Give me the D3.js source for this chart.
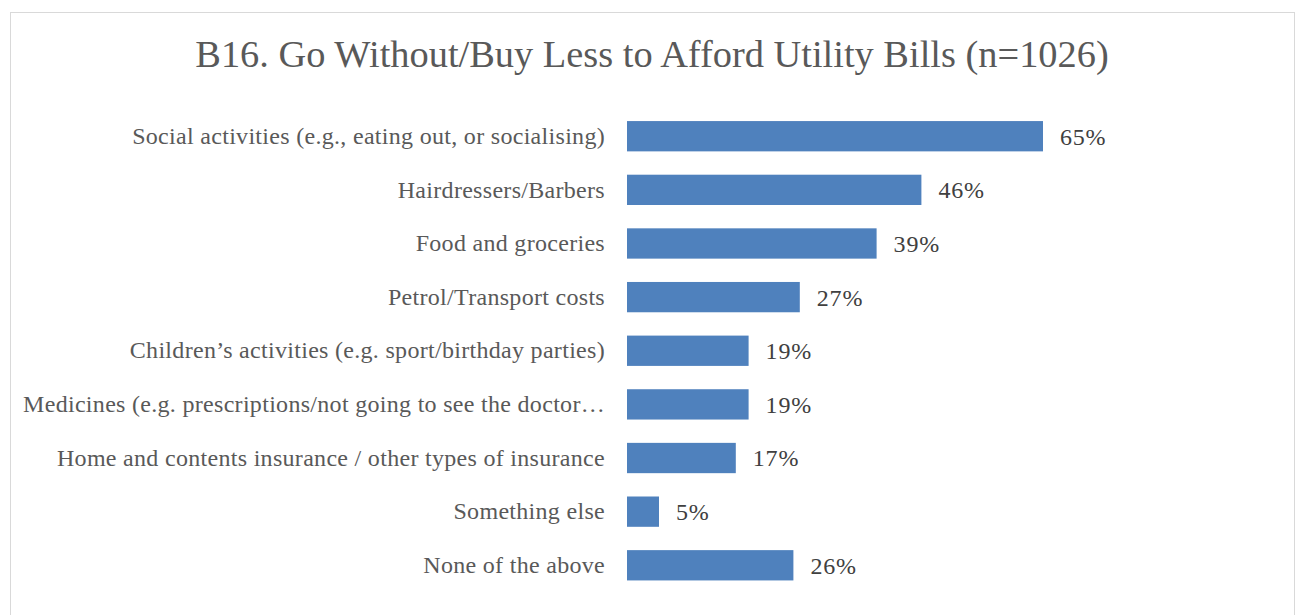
<!DOCTYPE html>
<html>
<head>
<meta charset="utf-8">
<script src="https://cdn.jsdelivr.net/npm/d3@7"></script>
<style>
  html, body { margin: 0; padding: 0; background: #ffffff; }
  svg { display: block; }
  text { font-family: "Liberation Serif", "DejaVu Serif", serif; }
</style>
</head>
<body>
<svg id="chart" width="1300" height="615"></svg>
<script>
// Survey responses: what people go without to afford utility bills
const chartTitle = "B16. Go Without/Buy Less to Afford Utility Bills (n=1026)";
const categories = [
  "Social activities (e.g., eating out, or socialising)",
  "Hairdressers/Barbers",
  "Food and groceries",
  "Petrol/Transport costs",
  "Children\u2019s activities (e.g. sport/birthday parties)",
  "Medicines (e.g. prescriptions/not going to see the doctor\u2026",
  "Home and contents insurance / other types of insurance",
  "Something else",
  "None of the above"
];
const percentages = [65, 46, 39, 27, 19, 19, 17, 5, 26];

const svg = d3.select("#chart");

// chart frame
svg.append("rect")
  .attr("x", 10.5).attr("y", 12.5)
  .attr("width", 1284).attr("height", 620)
  .attr("fill", "#ffffff")
  .attr("stroke", "#d9d9d9")
  .attr("stroke-width", 1);

// title
svg.append("text")
  .attr("x", 652)
  .attr("y", 67)
  .attr("text-anchor", "middle")
  .attr("fill", "#595959")
  .style("font-size", "38.4px")
  .text(chartTitle);

const plotLeft = 627;
const x = d3.scaleLinear().domain([0, 100]).range([plotLeft, plotLeft + 640]);
const y = d3.scaleBand()
  .domain(categories)
  .range([109.4, 592.1])
  .paddingInner(0.435)
  .paddingOuter(0.2175);

const rows = svg.append("g").selectAll("g")
  .data(categories.map((c, i) => ({ cat: c, val: percentages[i] })))
  .join("g");

rows.append("rect")
  .attr("x", x(0))
  .attr("y", d => y(d.cat))
  .attr("width", d => x(d.val) - x(0))
  .attr("height", y.bandwidth())
  .attr("fill", "#4f81bd");

rows.append("text")
  .attr("x", d => x(d.val) + 17)
  .attr("y", d => y(d.cat) + y.bandwidth() / 2)
  .attr("dy", "0.35em")
  .attr("fill", "#404040")
  .style("font-size", "24px")
  .style("letter-spacing", "0.8px")
  .text(d => d.val + "%");

// category axis labels
const axis = d3.axisLeft(y).tickSize(0).tickPadding(22);
const gAxis = svg.append("g")
  .attr("transform", `translate(${plotLeft},0)`)
  .call(axis);
gAxis.select(".domain").remove();
gAxis.selectAll("text")
  .attr("fill", "#595959")
  .style("font-family", "'Liberation Serif', 'DejaVu Serif', serif")
  .style("font-size", "24px")
  .style("letter-spacing", "0.3px");
</script>
</body>
</html>
